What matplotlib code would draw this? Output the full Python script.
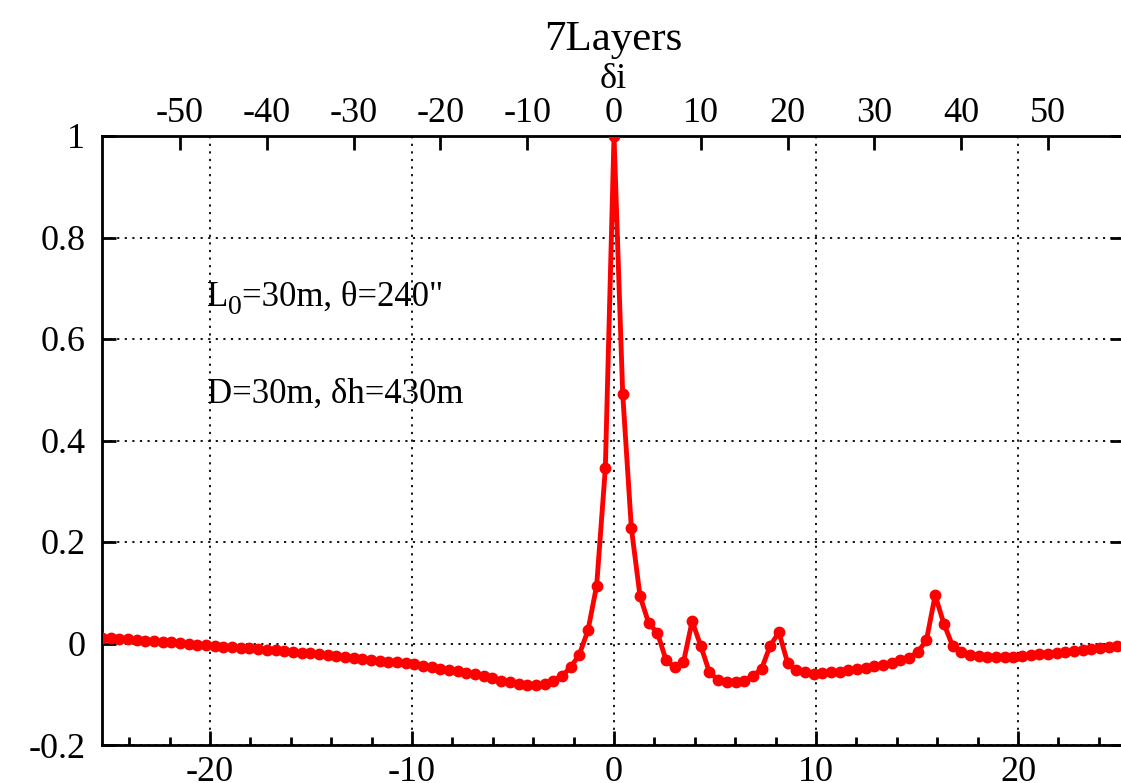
import numpy as np
import matplotlib
matplotlib.use("Agg")
import matplotlib.pyplot as plt
from matplotlib.ticker import MultipleLocator
from matplotlib.transforms import offset_copy

# layer index offsets (top axis) and normalised values
di = list(range(-59, 59))
vals = [
    0.011, 0.010, 0.009, 0.008, 0.007, 0.005, 0.004, 0.003, 0.002, 0.001,
    -0.001, -0.002, -0.003, -0.005, -0.006, -0.007, -0.008, -0.009, -0.010, -0.012,
    -0.013, -0.014, -0.016, -0.018, -0.019, -0.021, -0.023, -0.024, -0.026, -0.028,
    -0.030, -0.032, -0.034, -0.036, -0.037, -0.039, -0.041, -0.044, -0.047, -0.050,
    -0.052, -0.055, -0.058, -0.061, -0.064, -0.068, -0.073, -0.076, -0.079, -0.081,
    -0.081, -0.079, -0.073, -0.064, -0.047, -0.022, 0.026, 0.114, 0.345, 1.000,
    0.492, 0.227, 0.093, 0.040, 0.021, -0.033, -0.047, -0.037, 0.044, -0.005,
    -0.057, -0.072, -0.076, -0.076, -0.073, -0.064, -0.050, -0.004, 0.022, -0.038,
    -0.052, -0.057, -0.060, -0.058, -0.057, -0.056, -0.053, -0.051, -0.048, -0.045,
    -0.042, -0.038, -0.033, -0.028, -0.017, 0.007, 0.095, 0.039, -0.004, -0.016,
    -0.022, -0.024, -0.026, -0.026, -0.026, -0.026, -0.024, -0.023, -0.021, -0.020,
    -0.018, -0.016, -0.015, -0.012, -0.010, -0.008, -0.006, -0.004,
]
ratio = 2.327  # top-axis units per bottom-axis unit

bottom_ticks = [-20, -10, 0, 10, 20]
top_ticks = [-50, -40, -30, -20, -10, 0, 10, 20, 30, 40, 50]
y_ticks = [-0.2, 0, 0.2, 0.4, 0.6, 0.8, 1]
y_labels = ['-0.2', '0', '0.2', '0.4', '0.6', '0.8', '1']

plt.rcParams['font.family'] = ['Liberation Serif', 'DejaVu Serif']

fig = plt.figure(figsize=(11.21, 7.83), dpi=100)
ax = fig.add_axes([102 / 1121, 1 - 745 / 783, 1022 / 1121, 609 / 783])

xmin, xmax = -25.35, 25.25
ax.set_xlim(xmin, xmax)
ax.set_ylim(-0.2, 1)
ax.set_xticks(bottom_ticks)
ax.set_xticklabels([str(t) for t in bottom_ticks])
ax.xaxis.set_minor_locator(MultipleLocator(2))
ax.set_yticks(y_ticks)
ax.set_yticklabels(y_labels)

ax.tick_params(axis='both', which='major', direction='in', length=10, width=2,
               labelsize=26, right=True)
ax.tick_params(axis='x', which='major', pad=8)
ax.tick_params(axis='y', which='major', pad=12)
ax.tick_params(axis='x', which='minor', direction='in', length=6, width=2)
for s in ax.spines.values():
    s.set_linewidth(2)

ax.grid(True, which='major', color='black', linestyle=(0, (1.2, 3)), linewidth=1.3)

ax2 = ax.twiny()
ax2.set_xlim(xmin * ratio, xmax * ratio)
ax2.set_xticks(top_ticks)
ax2.set_xticklabels([str(t) for t in top_ticks])
ax2.tick_params(axis='x', direction='in', length=10, width=2, labelsize=26, pad=4)
ax2.set_title('7Layers', fontsize=31, pad=62)
# top axis label, placed by hand above the tick labels
ax2.text(0.5, 1.0, 'δi', fontsize=26, ha='center', va='bottom',
         transform=offset_copy(ax2.transAxes, fig=fig, x=0, y=29, units='points'))

ax2.plot(di, vals, color='red', linewidth=3.5, marker='o', markersize=7.5,
         clip_on=True)

# L with a large subscript 0, as in the original
t1 = ax.text(-20.15, 0.666, 'L', fontsize=25, va='baseline')
fig.canvas.draw()
w = t1.get_window_extent().width * 72 / fig.dpi
t2 = ax.text(-20.15, 0.666, '0', fontsize=20, va='baseline',
             transform=offset_copy(ax.transData, fig=fig, x=w, y=-6, units='points'))
fig.canvas.draw()
w2 = w + t2.get_window_extent().width * 72 / fig.dpi
ax.text(-20.15, 0.666, '=30m, θ=240"', fontsize=25, va='baseline',
        transform=offset_copy(ax.transData, fig=fig, x=w2, y=0, units='points'))
ax.text(-20.15, 0.475, 'D=30m, δh=430m', fontsize=25, va='baseline')

fig.savefig('out.png', dpi=100)
